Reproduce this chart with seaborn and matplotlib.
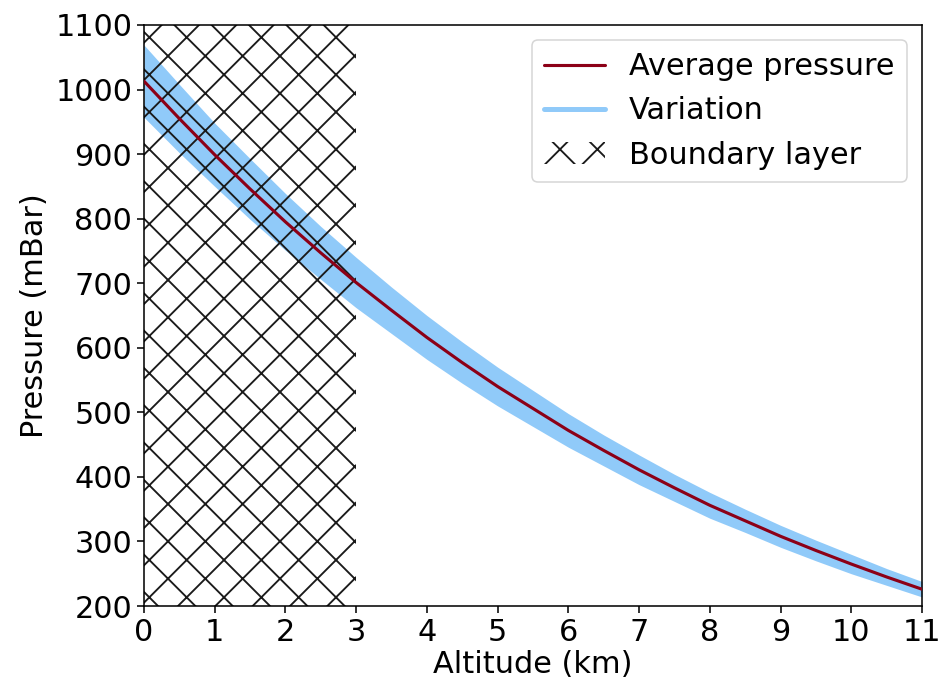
import matplotlib
matplotlib.use("Agg")
import matplotlib.pyplot as plt
from matplotlib.lines import Line2D
from matplotlib.patches import Patch
import pandas as pd
import seaborn as sns

# Altitude grid (km) and mean pressure (mBar)
altitude_km = [0.0, 0.5, 1.0, 1.5, 2.0, 2.5, 3.0, 3.5, 4.0, 4.5, 5.0, 5.5,
               6.0, 6.5, 7.0, 7.5, 8.0, 8.5, 9.0, 9.5, 10.0, 10.5, 11.0]
pressure_mean = [1013, 955, 899, 846, 795, 747, 701, 658, 616, 577, 540, 506,
                 472, 441, 411, 383, 356, 332, 308, 286, 265, 245, 226]
# Range of variation around the mean
pressure_high = [1069, 1008, 948, 893, 839, 788, 740, 694, 650, 609, 570, 534,
                 498, 465, 434, 404, 376, 350, 325, 302, 280, 258, 238]
pressure_low = [957, 902, 850, 799, 751, 706, 662, 622, 582, 545, 510, 478,
                446, 417, 388, 362, 336, 314, 291, 270, 250, 232, 214]

# Boundary layer extent (km)
boundary_layer = (0, 3)

x_ticks = list(range(0, 12))
y_ticks = list(range(200, 1101, 100))

df = pd.DataFrame({"Altitude": altitude_km, "Pressure": pressure_mean})

sns.set_theme(style="ticks")
plt.rcParams["font.family"] = ["DejaVu Sans"]
plt.rcParams["hatch.linewidth"] = 1.2
plt.rcParams["text.color"] = "black"

dpi = 112
fs = 19.5
fig = plt.figure(figsize=(944 / dpi, 686 / dpi), dpi=dpi)
ax = fig.add_axes([0.1525, 0.1166, 0.8242, 0.847])

line_color = "#8c0017"
band_color = "#90caf9"

ax.fill_between(altitude_km, pressure_low, pressure_high, color=band_color,
                linewidth=0, zorder=1)
ax.axvspan(*boundary_layer, fill=False, hatch="x", linewidth=0,
           edgecolor="#1a1a1a", zorder=2)
sns.lineplot(data=df, x="Altitude", y="Pressure", ax=ax, color=line_color,
             linewidth=2.0, zorder=3)

ax.set_xlim(0, 11)
ax.set_ylim(200, 1100)
ax.set_xticks(x_ticks)
ax.set_yticks(y_ticks)
ax.tick_params(labelsize=fs, length=4.5, width=1.0, color="black",
               labelcolor="black", pad=3)
for s in ax.spines.values():
    s.set_color("black")
    s.set_linewidth(1.0)
ax.set_xlabel("Altitude (km)", fontsize=fs, color="black", labelpad=2)
ax.set_ylabel("Pressure (mBar)", fontsize=fs, color="black", labelpad=4)

handles = [
    Line2D([], [], color=line_color, linewidth=2.0),
    Line2D([], [], color=band_color, linewidth=3.2),
    Patch(facecolor="none", edgecolor="#1a1a1a", hatch="x", linewidth=0),
]
labels = ["Average pressure", "Variation", "Boundary layer"]
ax.legend(handles, labels, loc="upper right", fontsize=fs, frameon=True,
          framealpha=0.8, edgecolor="#cccccc", fancybox=True,
          borderaxespad=0.5, labelcolor="black")

fig.savefig("out.png", dpi=dpi)
